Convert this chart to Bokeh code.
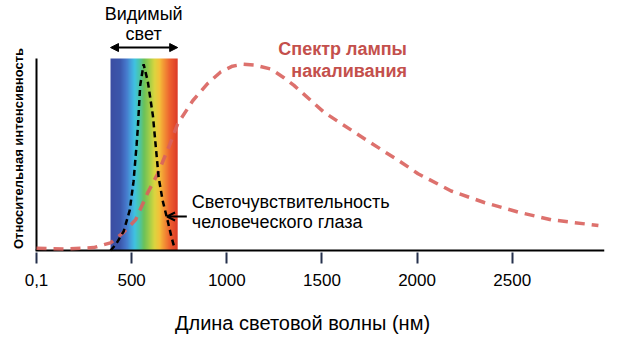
import numpy as np
from bokeh.plotting import figure
from bokeh.models import Range1d, FixedTicker, Label, Arrow, NormalHead, OpenHead
from bokeh.embed import file_html
from bokeh.resources import INLINE

# ---------------- data ----------------
lamp_nm = [0, 150, 300, 389, 453, 521, 584, 637, 700, 742, 821, 900, 968, 1030, 1084,
           1150, 1232, 1300, 1353, 1511, 1742, 1916, 2005, 2179, 2353, 2532, 2705, 2953]
lamp_int = [0.012, 0.008, 0.015, 0.04, 0.09, 0.16, 0.30, 0.40, 0.55, 0.66, 0.78, 0.87,
            0.93, 0.96, 0.97, 0.965, 0.945, 0.90, 0.86, 0.72, 0.57, 0.46, 0.40, 0.31,
            0.25, 0.20, 0.16, 0.13]

eye_nm = [389, 416, 458, 490, 510, 526, 532, 545, 563, 585, 600, 612, 626, 642,
          663, 689, 710, 726]
eye_int = [0.0, 0.03, 0.10, 0.21, 0.36, 0.55, 0.63, 0.86, 0.97, 0.88, 0.78, 0.70,
           0.55, 0.38, 0.26, 0.156, 0.068, 0.01]

visible_range = [389, 742]
band_stop_nm = [389, 440, 470, 495, 515, 540, 565, 595, 620, 645, 670, 700, 742]
band_colors = ["#3b4ea3", "#3c58ad", "#4778cc", "#45a2dc", "#3fc3e3", "#4bc6a8",
               "#6cc25a", "#a6cf48", "#dcd540", "#f4c23a", "#f39436", "#ee6230",
               "#dc3a28"]

tick_values = [0, 500, 1000, 1500, 2000, 2500]
tick_labels = ["0,1", "500", "1000", "1500", "2000", "2500"]

FONT = "Liberation Sans"
RED_TEXT = "#c4504c"
RED_LINE = "#d9625d"

X_END = 2985
PX_PER_NM = 568 / X_END
PX_PER_UNIT = 192.0

p = figure(width=620, height=351, output_backend="svg", toolbar_location=None,
           x_range=Range1d(-36 / PX_PER_NM, X_END),
           y_range=Range1d(-2 / PX_PER_UNIT, 250 / PX_PER_UNIT),
           y_axis_location=None,
           min_border_left=0, min_border_right=16, min_border_top=0,
           min_border_bottom=99)
p.outline_line_color = None
p.xgrid.visible = False
p.ygrid.visible = False
p.background_fill_color = "white"
p.border_fill_color = "white"

# visible-light band (gradient image)
def hex2rgb(h):
    h = h.lstrip("#")
    return [int(h[i:i + 2], 16) for i in (0, 2, 4)]

cols = np.linspace(visible_range[0], visible_range[1], 240)
rgb = np.array([hex2rgb(c) for c in band_colors], dtype=float)
img = np.empty((2, len(cols)), dtype=np.uint32)
view = img.view(dtype=np.uint8).reshape((2, len(cols), 4))
for ch in range(3):
    view[:, :, ch] = np.interp(cols, band_stop_nm, rgb[:, ch]).astype(np.uint8)[None, :]
view[:, :, 3] = 255
p.image_rgba(image=[img], x=visible_range[0], y=0,
             dw=visible_range[1] - visible_range[0], dh=1)

# axis lines
p.segment(x0=[-5, 0], y0=[0, 0], x1=[X_END, 0], y1=[0, 1],
          line_color="black", line_width=2)

# curves
p.line(lamp_nm, lamp_int, line_color=RED_LINE, line_width=3.5, line_dash="10 7",
       line_alpha=0.9)
p.line(eye_nm, eye_int, line_color="black", line_width=2.5, line_dash="6 4")

# x axis (ticks + labels)
p.xaxis.ticker = FixedTicker(ticks=tick_values)
p.xaxis.major_label_overrides = {t: l for t, l in zip(tick_values, tick_labels)}
p.xaxis.minor_tick_line_color = None
p.xaxis.major_tick_in = 0
p.xaxis.major_tick_out = 11
p.xaxis.major_tick_line_color = "#25304c"
p.xaxis.major_tick_line_width = 2
p.xaxis.axis_line_color = None
p.xaxis.major_label_standoff = 10
p.xaxis.major_label_text_font = FONT
p.xaxis.major_label_text_font_size = "17px"
p.xaxis.major_label_text_color = "black"
p.xaxis.axis_label = "Длина световой волны (нм)"
p.xaxis.axis_label_text_font = FONT
p.xaxis.axis_label_text_font_size = "20px"
p.xaxis.axis_label_text_font_style = "normal"
p.xaxis.axis_label_text_color = "black"
p.xaxis.axis_label_standoff = 23

# y-axis label
p.add_layout(Label(x=-18 / PX_PER_NM, y=(250 - 148) / PX_PER_UNIT,
                   text="Относительная интенсивность", angle=np.pi / 2,
                   text_align="center", text_baseline="middle", text_font=FONT,
                   text_font_size="13px", text_font_style="bold",
                   text_color="black"))

# annotations
for txt, yv in (("Видимый", 1.234), ("свет", 1.130)):
    p.add_layout(Label(x=563, y=yv, text=txt, text_align="center",
                       text_baseline="middle", text_font=FONT,
                       text_font_size="18px", text_color="black"))

p.add_layout(Arrow(x_start=visible_range[0], x_end=visible_range[1],
                   y_start=1.057, y_end=1.057, line_width=2, line_color="black",
                   start=NormalHead(size=8, fill_color="black", line_color="black"),
                   end=NormalHead(size=8, fill_color="black", line_color="black")))

for txt, yv in (("Спектр лампы", 1.047), ("накаливания", 0.9375)):
    p.add_layout(Label(x=1947, y=yv, text=txt, text_align="right",
                       text_baseline="middle", text_font=FONT,
                       text_font_size="18px", text_font_style="bold",
                       text_color=RED_TEXT))

for txt, yv in (("Светочувствительность", 0.255), ("человеческого глаза", 0.146)):
    p.add_layout(Label(x=816, y=yv, text=txt, text_align="left",
                       text_baseline="middle", text_font=FONT,
                       text_font_size="18px", text_color="black"))

p.add_layout(Arrow(x_start=790, x_end=686, y_start=0.177, y_end=0.177,
                   line_width=2, line_color="black",
                   end=OpenHead(size=8, line_width=2, line_color="black")))

open("out.html", "w").write(file_html(p, INLINE))
